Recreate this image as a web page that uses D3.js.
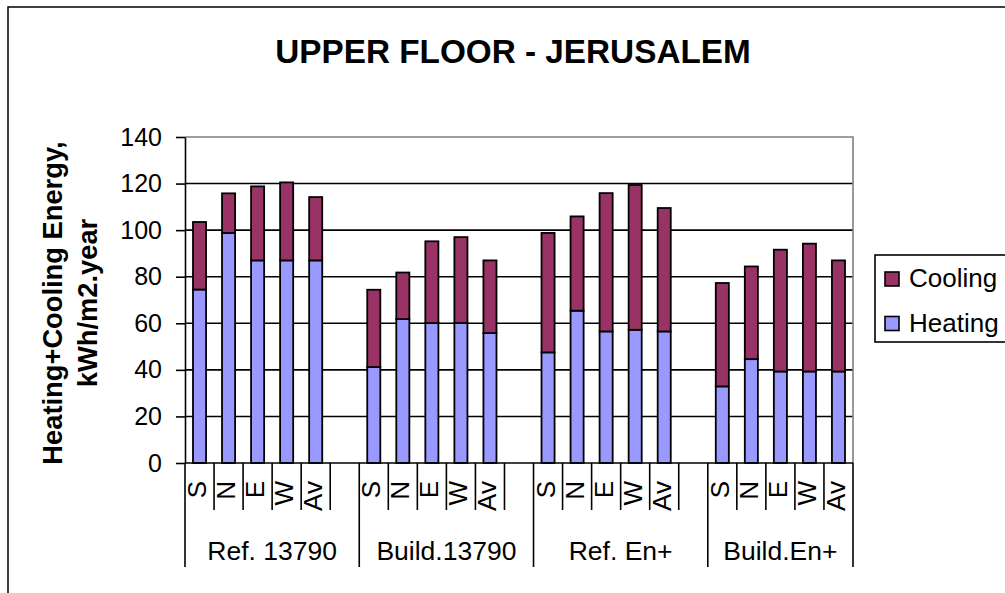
<!DOCTYPE html>
<html>
<head>
<meta charset="utf-8">
<script src="https://cdn.jsdelivr.net/npm/d3@7"></script>
<style>
  body { margin: 0; background: #fff; }
  text { font-family: "Liberation Sans", Arial, sans-serif; }
</style>
</head>
<body>
<svg id="chart" width="1005" height="593"></svg>
<script>
// chart values
var groups = ["Ref. 13790", "Build.13790", "Ref. En+", "Build.En+"]
var directions = ["S", "N", "E", "W", "Av"]
var heating = [
    [74.5, 98.8, 87, 87, 87],
    [41.2, 61.8, 60.1, 60.1, 55.8],
    [47.5, 65.4, 56.5, 57.2, 56.5],
    [32.9, 44.6, 39.3, 39.3, 39.3]
]
var cooling = [
    [29, 17, 31.8, 33.5, 27.2],
    [33.2, 20, 35.1, 36.9, 31.2],
    [51.3, 40.5, 59.4, 62.2, 53],
    [44.4, 39.8, 52.3, 54.9, 47.7]
]
var yTicks = [0, 20, 40, 60, 80, 100, 120, 140]
var seriesNames = ["Cooling", "Heating"]
var colors = {Heating: "#9999FF", Cooling: "#993366"}

var svg = d3.select("#chart")

var dimensions = {
    left: 185,
    right: 853,
    top: 137,
    bottom: 463
}

// flat list of categories, a blank slot after each group but the last
var slots = []
var rows = []
groups.forEach(function(g, gi) {
    directions.forEach(function(d, di) {
        var key = gi + "-" + di
        slots.push(key)
        rows.push({key: key, dir: d, heat: heating[gi][di], cool: cooling[gi][di]})
    })
    if (gi < groups.length - 1) slots.push(gi + "-blank")
})

var xScale = d3.scaleBand()
    .domain(slots)
    .range([dimensions.left, dimensions.right])
    .padding(0)

var yScale = d3.scaleLinear()
    .domain([0, 140])
    .range([dimensions.bottom, dimensions.top])

var bw = xScale.bandwidth()

// outer chart border (right and bottom edges fall off the page)
svg.append("rect")
    .attr("x", 8).attr("y", 7)
    .attr("width", 1100).attr("height", 700)
    .attr("fill", "none")
    .attr("stroke", "#000")
    .attr("stroke-width", 1.5)

// title
svg.append("text")
    .attr("x", 513)
    .attr("y", 63)
    .attr("text-anchor", "middle")
    .style("font-size", "33.3px")
    .style("font-weight", "bold")
    .text("UPPER FLOOR - JERUSALEM")

// gridlines
svg.append("g")
    .selectAll("line")
    .data(yTicks.filter(function(t) { return t > 0 && t < 140 }))
    .join("line")
    .attr("x1", dimensions.left)
    .attr("x2", dimensions.right)
    .attr("y1", function(t) { return yScale(t) })
    .attr("y2", function(t) { return yScale(t) })
    .attr("stroke", "#000")
    .attr("stroke-width", 1.6)

// plot border top + right (grey)
svg.append("path")
    .attr("d", "M" + dimensions.left + "," + yScale(140) + "H" + dimensions.right + "V" + dimensions.bottom)
    .attr("fill", "none")
    .attr("stroke", "#808080")
    .attr("stroke-width", 1.6)

// stacked bars
var barW = bw * 0.45
var bars = svg.append("g")
bars.selectAll(".heat")
    .data(rows)
    .join("rect")
    .attr("class", "heat")
    .attr("x", function(d) { return xScale(d.key) + (bw - barW) / 2 })
    .attr("width", barW)
    .attr("y", function(d) { return yScale(d.heat) })
    .attr("height", function(d) { return yScale(0) - yScale(d.heat) })
    .attr("fill", colors.Heating)
    .attr("stroke", "#000")
    .attr("stroke-width", 1.8)
bars.selectAll(".cool")
    .data(rows)
    .join("rect")
    .attr("class", "cool")
    .attr("x", function(d) { return xScale(d.key) + (bw - barW) / 2 })
    .attr("width", barW)
    .attr("y", function(d) { return yScale(d.heat + d.cool) })
    .attr("height", function(d) { return yScale(d.heat) - yScale(d.heat + d.cool) })
    .attr("fill", colors.Cooling)
    .attr("stroke", "#000")
    .attr("stroke-width", 1.8)

// y axis
var yAxis = svg.append("g")
    .attr("transform", "translate(" + dimensions.left + ",0)")
    .call(d3.axisLeft(yScale).tickValues(yTicks).tickSize(9).tickSizeOuter(0).tickPadding(14))
yAxis.select(".domain").attr("stroke", "#000").attr("stroke-width", 1.6)
yAxis.selectAll(".tick line").attr("stroke", "#000").attr("stroke-width", 1.6)
yAxis.selectAll(".tick text")
    .style("font-size", "25px")
    .style("font-family", "'Liberation Sans', Arial, sans-serif")
    .attr("fill", "#000")

// x axis line
svg.append("line")
    .attr("x1", dimensions.left).attr("x2", dimensions.right)
    .attr("y1", dimensions.bottom).attr("y2", dimensions.bottom)
    .attr("stroke", "#000").attr("stroke-width", 1.6)

// category ticks: every band edge, longer at group edges
var groupEdges = []
var edgeIdx = 0
groups.forEach(function(g, gi) {
    groupEdges.push(edgeIdx)
    edgeIdx += directions.length + (gi < groups.length - 1 ? 1 : 0)
})
groupEdges.push(slots.length)

var edges = d3.range(slots.length + 1)
svg.append("g")
    .selectAll("line")
    .data(edges)
    .join("line")
    .attr("x1", function(i) { return dimensions.left + i * bw })
    .attr("x2", function(i) { return dimensions.left + i * bw })
    .attr("y1", dimensions.bottom)
    .attr("y2", function(i) { return groupEdges.indexOf(i) >= 0 ? 567 : 510 })
    .attr("stroke", "#000")
    .attr("stroke-width", 1.6)

// direction labels, rotated
svg.append("g")
    .selectAll("text")
    .data(rows)
    .join("text")
    .attr("transform", function(d) {
        return "translate(" + (xScale(d.key) + bw / 2 + 6.5) + ",481) rotate(-90)"
    })
    .attr("text-anchor", "end")
    .style("font-size", "26px")
    .text(function(d) { return d.dir })

// group labels
svg.append("g")
    .selectAll("text")
    .data(groups)
    .join("text")
    .attr("x", function(g, gi) {
        return dimensions.left + (groupEdges[gi] + groupEdges[gi + 1]) / 2 * bw
    })
    .attr("y", 560)
    .attr("text-anchor", "middle")
    .style("font-size", "26.5px")
    .text(function(g) { return g })

// y axis title
var yTitle = svg.append("text")
    .attr("transform", "translate(62,303) rotate(-90)")
    .attr("text-anchor", "middle")
    .style("font-size", "27.3px")
    .style("font-weight", "bold")
yTitle.append("tspan").attr("x", 0).attr("y", 0).text("Heating+Cooling Energy,")
yTitle.append("tspan").attr("x", 0).attr("y", 35).text("kWh/m2.year")

// legend
var legend = svg.append("g")
legend.append("rect")
    .attr("x", 875).attr("y", 255)
    .attr("width", 150).attr("height", 87)
    .attr("fill", "#fff")
    .attr("stroke", "#000")
    .attr("stroke-width", 1.6)
var items = legend.selectAll(".item")
    .data(seriesNames)
    .join("g")
    .attr("class", "item")
    .attr("transform", function(d, i) { return "translate(885," + (272 + i * 44.5) + ")" })
items.append("rect")
    .attr("width", 14).attr("height", 14)
    .attr("fill", function(d) { return colors[d] })
    .attr("stroke", "#000")
    .attr("stroke-width", 1.6)
items.append("text")
    .attr("x", 24)
    .attr("y", 15)
    .style("font-size", "26px")
    .text(function(d) { return d })
</script>
</body>
</html>
